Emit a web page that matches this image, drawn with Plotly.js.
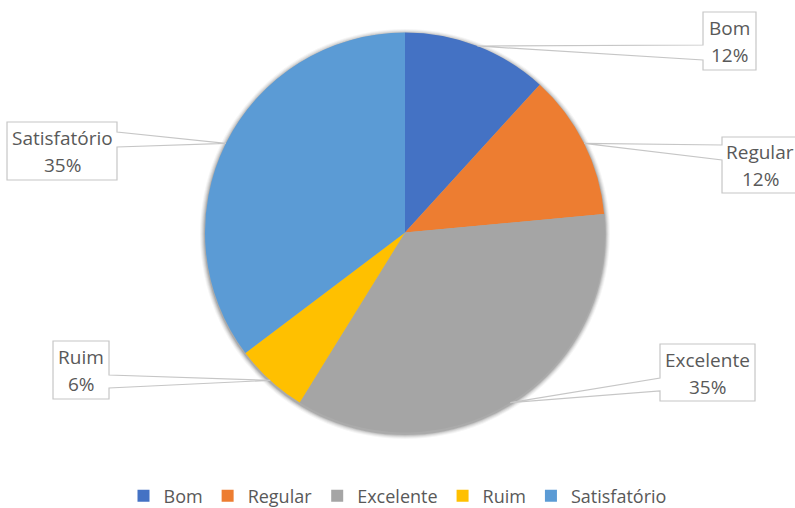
<!DOCTYPE html>
<html>
<head>
<meta charset="utf-8">
<script src="https://cdn.plot.ly/plotly-3.0.1.min.js"></script>
<style>html,body{margin:0;padding:0;background:#fff;}#chart{width:795px;height:508px;}</style>
</head>
<body>
<div id="chart"></div>
<script>
// ---- data ----
const categories = ["Bom", "Regular", "Excelente", "Ruim", "Satisfatório"];
const counts = [2, 2, 6, 1, 6];
const colors = ["#4472C4", "#ED7D31", "#A5A5A5", "#FFC000", "#5B9BD5"];

// ---- layout constants (pixels) ----
const W = 795, H = 508;
const CX = 405, CY = 232.5, R = 200;
const boxes = {
  "Bom":          {box: [703, 12, 756, 70],  side: "left",  base: [45, 60]},
  "Regular":      {box: [722, 137, 798, 193], side: "left", base: [145, 160]},
  "Excelente":    {box: [660, 344, 755, 401], side: "left", base: [378, 391]},
  "Ruim":         {box: [53, 341, 109, 399],  side: "right", base: [375, 388]},
  "Satisfatório": {box: [7, 122, 117, 180],   side: "right", base: [132, 147]}
};
const X = px => px / W;
const Y = py => 1 - py / H;
const P = (x, y) => X(x).toFixed(5) + "," + Y(y).toFixed(5);
const labelFont = {family: "Open Sans, sans-serif", size: 19, color: "#595959"};

const total = counts.reduce((a, b) => a + b, 0);
let cum = 0;
const shapes = [], annotations = [];

// soft shadow behind the pie
[[5, 0.04], [4, 0.05], [3, 0.07], [2, 0.09], [1, 0.12]].forEach(([d, a]) => {
  shapes.push({type: "circle", xref: "paper", yref: "paper", layer: "below",
    x0: X(CX - R - d), x1: X(CX + R + d), y0: Y(CY + 1.5 + R + d), y1: Y(CY + 1.5 - R - d),
    fillcolor: "rgba(0,0,0," + a + ")", line: {width: 0}});
});

categories.forEach((c, i) => {
  const mid = 2 * Math.PI * (cum + counts[i] / 2) / total;
  cum += counts[i];
  const tx = CX + R * Math.sin(mid), ty = CY - R * Math.cos(mid);
  const b = boxes[c];
  const [x0, y0, x1, y1] = b.box;
  const [b1, b2] = b.base;
  let path;
  if (b.side === "left") {
    path = "M" + P(x0, y0) + "L" + P(x1, y0) + "L" + P(x1, y1) + "L" + P(x0, y1) +
           "L" + P(x0, b2) + "L" + P(tx, ty) + "L" + P(x0, b1) + "Z";
  } else {
    path = "M" + P(x0, y0) + "L" + P(x1, y0) + "L" + P(x1, b1) + "L" + P(tx, ty) +
           "L" + P(x1, b2) + "L" + P(x1, y1) + "L" + P(x0, y1) + "Z";
  }
  shapes.push({type: "path", xref: "paper", yref: "paper", path: path,
    fillcolor: "#ffffff", line: {color: "#C6C6C6", width: 1.2}, layer: "above"});
  const pct = Math.round(counts[i] / total * 100) + "%";
  const xc = (x0 + x1) / 2, yc = (y0 + y1) / 2;
  annotations.push({xref: "paper", yref: "paper", x: X(xc), y: Y(yc - 13), xanchor: "center", yanchor: "middle",
    showarrow: false, text: c, font: labelFont});
  annotations.push({xref: "paper", yref: "paper", x: X(xc), y: Y(yc + 14), xanchor: "center", yanchor: "middle",
    showarrow: false, text: pct, font: labelFont});
});

const trace = {
  type: "pie",
  labels: categories,
  values: counts,
  marker: {colors: colors, line: {width: 0}},
  sort: false,
  direction: "clockwise",
  rotation: 0,
  textinfo: "none",
  hoverinfo: "label+percent",
  domain: {x: [X(CX - R), X(CX + R)], y: [Y(CY + R), Y(CY - R)]}
};

const layout = {
  width: W, height: H,
  margin: {l: 0, r: 0, t: 0, b: 0, autoexpand: false},
  paper_bgcolor: "#ffffff",
  showlegend: true,
  legend: {orientation: "h", x: 0.5, xanchor: "center", y: Y(496), yanchor: "middle",
    font: {family: "Open Sans, sans-serif", size: 18, color: "#595959"},
    itemwidth: 30, traceorder: "normal"},
  shapes: shapes,
  annotations: annotations
};

Plotly.newPlot("chart", [trace], layout, {displayModeBar: false, staticPlot: true});
</script>
</body>
</html>
